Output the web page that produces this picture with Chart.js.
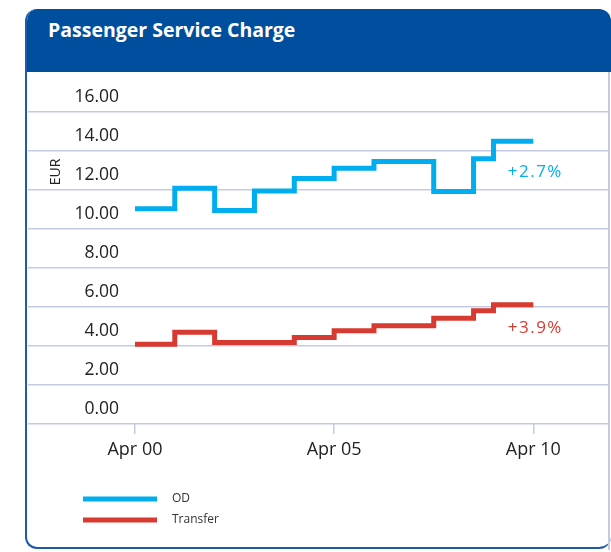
<!DOCTYPE html>
<html>
<head>
<meta charset="utf-8">
<title>Passenger Service Charge</title>
<script src="https://cdn.jsdelivr.net/npm/chart.js@4.4.1/dist/chart.umd.min.js"></script>
<style>
  html, body { margin: 0; padding: 0; background: #fff; }
  body { width: 611px; height: 552px; position: relative; overflow: hidden; font-family: "Open Sans", sans-serif; }
  .card { position: absolute; left: 25px; top: 9px; width: 584px; height: 538px;
          border-left: 2px solid #1f5aa6; border-bottom: 2px solid #1f5aa6;
          border-radius: 12px; overflow: hidden; background: #fff; }
  .card-head { height: 63px; background: #004f9e; color: #fff; font-weight: 700;
               font-size: 19.5px; padding-left: 21px; line-height: 42px; }
  .edge { position: absolute; left: 608px; top: 72px; width: 1.5px; height: 478px; background: #c3cbe3; }
  #chart { position: absolute; left: 0; top: 0; }
</style>
</head>
<body>
<div class="card"><div class="card-head">Passenger Service Charge</div></div>
<div class="edge"></div>
<canvas id="chart" width="611" height="552"></canvas>
<script>
// Chart data
const days = [0, 1, 2, 3, 4, 5, 6, 7.5, 8.5, 9, 10];
const odValues = [11.04, 12.09, 10.95, 11.95, 12.59, 13.12, 13.46, 11.92, 13.6, 14.5, 14.5];
const transferValues = [4.09, 4.7, 4.18, 4.18, 4.44, 4.78, 5.04, 5.42, 5.81, 6.11, 6.11];
const seriesNames = ['OD', 'Transfer'];
const changeLabels = ['+2.7%', '+3.9%'];
const xTickValues = [0, 5, 10];
const xTickLabels = ['Apr 00', 'Apr 05', 'Apr 10'];
const yTickValues = [0, 2, 4, 6, 8, 10, 12, 14, 16];
const yTickLabels = ['0.00', '2.00', '4.00', '6.00', '8.00', '10.00', '12.00', '14.00', '16.00'];
const yAxisTitle = 'EUR';

const FONT = '"Open Sans", sans-serif';
const gridColor = '#c3cbe3';
const textColor = '#222';

// Change labels, unit label and legend drawn on top of the chart
const chartNotes = {
    id: 'chartNotes',
    afterDatasetsDraw(chart) {
        const ctx = chart.ctx;
        ctx.save();

        // change labels under the last point of each series
        chart.data.datasets.forEach((ds, i) => {
            const pts = chart.getDatasetMeta(i).data;
            const last = pts[pts.length - 1];
            ctx.font = '17px ' + FONT;
            ctx.letterSpacing = '1.5px';
            ctx.fillStyle = ds.borderColor;
            ctx.textAlign = 'center';
            ctx.textBaseline = 'middle';
            ctx.fillText(changeLabels[i], last.x + 2, last.y + ds.noteOffset);
        });
        ctx.letterSpacing = '0px';

        // unit label
        ctx.save();
        ctx.translate(56, 172);
        ctx.rotate(-Math.PI / 2);
        ctx.font = '14px ' + FONT;
        ctx.fillStyle = textColor;
        ctx.textAlign = 'center';
        ctx.textBaseline = 'middle';
        ctx.fillText(yAxisTitle, 0, 0);
        ctx.restore();

        // legend
        chart.data.datasets.forEach((ds, i) => {
            const y = 499 + i * 21;
            ctx.strokeStyle = ds.borderColor;
            ctx.lineWidth = 5;
            ctx.beginPath();
            ctx.moveTo(83, y);
            ctx.lineTo(157, y);
            ctx.stroke();
            ctx.font = '12px ' + FONT;
            ctx.fillStyle = '#333';
            ctx.textAlign = 'left';
            ctx.textBaseline = 'middle';
            ctx.fillText(ds.label, 172, y);
        });
        ctx.restore();
    }
};

function toPoints(values) {
    return days.map((d, i) => ({ x: d, y: values[i] }));
}

function createChart() {
    const ctx = document.getElementById('chart').getContext('2d');
    Chart.defaults.font.family = FONT;
    new Chart(ctx, {
        type: 'line',
        data: {
            datasets: [{
                label: seriesNames[0],
                data: toPoints(odValues),
                borderColor: '#00aeef',
                borderWidth: 5,
                stepped: true,
                pointRadius: 0,
                fill: false,
                borderCapStyle: 'butt',
                noteOffset: 31
            }, {
                label: seriesNames[1],
                data: toPoints(transferValues),
                borderColor: '#d73a31',
                borderWidth: 5,
                stepped: true,
                pointRadius: 0,
                fill: false,
                borderCapStyle: 'butt',
                noteOffset: 23
            }]
        },
        options: {
            responsive: false,
            devicePixelRatio: 1,
            animation: false,
            layout: { padding: { top: 112, left: 28, right: 2, bottom: 92 } },
            plugins: {
                legend: { display: false },
                tooltip: { enabled: false }
            },
            scales: {
                x: {
                    type: 'linear',
                    min: -0.25,
                    max: 11.9,
                    afterBuildTicks: s => { s.ticks = xTickValues.map(v => ({ value: v })); },
                    afterFit: s => { s.height = 36; },
                    ticks: {
                        callback: v => xTickLabels[xTickValues.indexOf(v)],
                        padding: 5,
                        color: textColor,
                        font: { size: 18 },
                        maxRotation: 0,
                        autoSkip: false
                    },
                    grid: { drawOnChartArea: false, drawTicks: true, tickLength: 10, color: gridColor, lineWidth: 1.5 },
                    border: { display: false }
                },
                y: {
                    min: 0,
                    max: 16,
                    afterBuildTicks: s => { s.ticks = yTickValues.map(v => ({ value: v })); },
                    afterFit: s => { s.width = 97; },
                    ticks: {
                        callback: v => yTickLabels[yTickValues.indexOf(v)],
                        labelOffset: -14.5,
                        padding: -91,
                        color: textColor,
                        font: { size: 17.5 }
                    },
                    grid: { color: gridColor, lineWidth: 1.5, tickLength: 97 },
                    border: { display: false }
                }
            }
        },
        plugins: [chartNotes]
    });
}

document.addEventListener('DOMContentLoaded', createChart);
</script>
</body>
</html>
